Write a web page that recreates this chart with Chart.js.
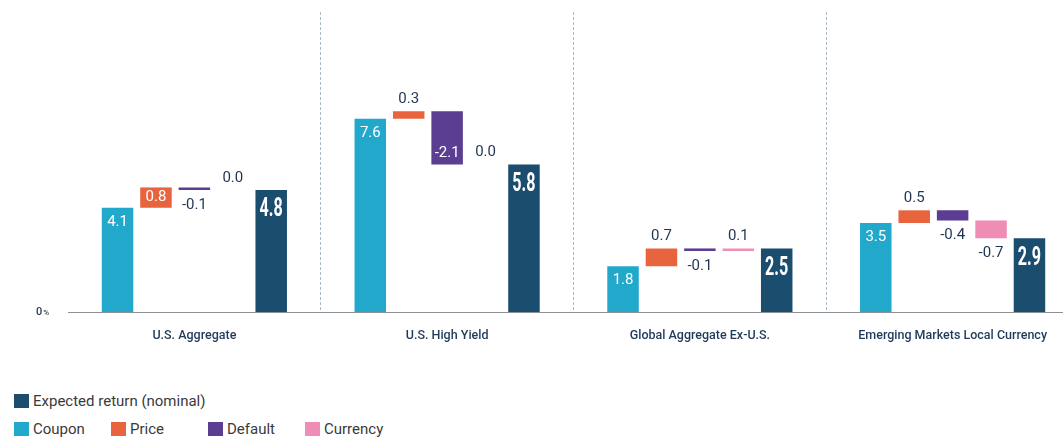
<!DOCTYPE html>
<html>
<head>
<meta charset="utf-8">
<script src="https://cdn.jsdelivr.net/npm/chart.js@4.4.1/dist/chart.umd.min.js"></script>
<style>
  html,body{margin:0;padding:0;background:#fff;overflow:hidden;width:1063px;height:438px;}
  #wrap{position:relative;width:1063px;height:438px;overflow:hidden;}
  canvas{position:absolute;left:0;top:0;}
  .legend{position:absolute;left:14px;top:391px;font:15px Roboto,sans-serif;color:#3a3a3a;}
  .row{display:flex;align-items:center;height:20px;margin-bottom:8px;}
  .item{display:flex;align-items:center;width:97px;white-space:nowrap;}
  .sw{width:15px;height:14px;margin-right:4px;flex:none;}
</style>
</head>
<body>
<div id="wrap">
  <canvas id="chart" width="1080" height="367"></canvas>
  <div class="legend" id="legend"></div>
</div>
<script>
// categories + component values (%)
const groups   = ['U.S. Aggregate', 'U.S. High Yield', 'Global Aggregate Ex-U.S.', 'Emerging Markets Local Currency'];
const coupon   = [4.1, 7.6, 1.8, 3.5];
const price    = [0.8, 0.3, 0.7, 0.5];
const defaults = [-0.1, -2.1, -0.1, -0.4];
const currency = [0.0, 0.0, 0.1, -0.7];
const expected = [4.8, 5.8, 2.5, 2.9];

const colors = {
  coupon: '#22a8cb',
  price: '#e8643f',
  def: '#5b3d91',
  cur: '#f08db6',
  total: '#1b4d6f'
};

// waterfall: each step floats from the running total
function floating(){
  const p = [], d = [], c = [];
  groups.forEach((g,i)=>{
    let s = coupon[i];
    p.push([s, s + price[i]]); s += price[i];
    d.push([s, s + defaults[i]]); s += defaults[i];
    c.push([s, s + currency[i]]);
  });
  return {p, d, c};
}
const fl = floating();

const labelPlugin = {
  id: 'valueLabels',
  afterDatasetsDraw(chart){
    const ctx = chart.ctx;
    chart.data.datasets.forEach((ds, di)=>{
      const meta = chart.getDatasetMeta(di);
      meta.data.forEach((bar, i)=>{
        const v = ds.raw[i];
        const txt = v.toFixed(1);
        const top = Math.min(bar.y, bar.base), bottom = Math.max(bar.y, bar.base);
        ctx.save();
        ctx.textAlign = 'center'; ctx.textBaseline = 'middle';
        if (ds.kind === 'total'){
          ctx.fillStyle = '#fff'; ctx.font = 'bold 26px Roboto';
          ctx.translate(bar.x, top + 20); ctx.scale(0.62, 1);
          ctx.fillText(txt, 0, 0);
        } else if (ds.kind === 'base'){
          ctx.fillStyle = '#fff'; ctx.font = '15px Roboto';
          ctx.fillText(txt, bar.x, top + 14.5);
        } else if (Math.abs(v) >= 0.8){
          ctx.fillStyle = '#fff'; ctx.font = '15px Roboto';
          ctx.fillText(txt, bar.x, v > 0 ? top + 10 : bottom - 11);
        } else {
          ctx.fillStyle = '#1f3450'; ctx.font = '15px Roboto';
          ctx.fillText(txt, bar.x, v >= 0 ? top - 12 : bottom + 15);
        }
        ctx.restore();
      });
    });
  },
  afterDraw(chart){
    // "0%" marker at the baseline
    const ctx = chart.ctx;
    const y = chart.scales.y.getPixelForValue(0);
    const x = chart.chartArea.left - 32;
    ctx.save();
    ctx.fillStyle = '#2a3a50'; ctx.textBaseline = 'middle'; ctx.textAlign = 'left';
    ctx.font = '500 11px Roboto';
    ctx.fillText('0', x, y);
    const w = ctx.measureText('0').width;
    ctx.font = '500 8px Roboto';
    ctx.fillText('%', x + w + 1, y + 1);
    ctx.restore();
  }
};

new Chart(document.getElementById('chart'), {
  type: 'bar',
  data: {
    labels: groups,
    datasets: [
      { label: 'Coupon', kind: 'base', raw: coupon, data: coupon.map(v=>[0, v]), backgroundColor: colors.coupon },
      { label: 'Price', kind: 'step', raw: price, data: fl.p, backgroundColor: colors.price },
      { label: 'Default', kind: 'step', raw: defaults, data: fl.d, backgroundColor: colors.def },
      { label: 'Currency', kind: 'step', raw: currency, data: fl.c, backgroundColor: colors.cur },
      { label: 'Expected return (nominal)', kind: 'total', raw: expected, data: expected.map(v=>[0, v]), backgroundColor: colors.total }
    ]
  },
  options: {
    responsive: false,
    devicePixelRatio: 1,
    animation: false,
    categoryPercentage: 0.76,
    barPercentage: 0.82,
    layout: { padding: { top: 12, bottom: 8, left: 68, right: 1 } },
    plugins: { legend: { display: false }, tooltip: { enabled: false } },
    scales: {
      x: {
        grid: {
          offset: true,
          drawTicks: false,
          lineWidth: 1,
          borderDash: [2, 2],
          color: (c)=> c.index === 0 ? 'rgba(0,0,0,0)' : '#a7bac6'
        },
        border: { display: true, color: '#8b9097', dash: [3, 2] },
        ticks: {
          padding: 16,
          maxRotation: 0,
          autoSkip: false,
          color: '#1f3a5a',
          font: { family: 'Roboto', size: 12.5, weight: '500' }
        }
      },
      y: { display: false, min: 0, max: 11.8 }
    }
  },
  plugins: [labelPlugin]
});

// legend: expected return on its own row, then the components
const legendRows = [
  [['Expected return (nominal)', colors.total]],
  [['Coupon', colors.coupon], ['Price', colors.price], ['Default', colors.def], ['Currency', colors.cur]]
];
const lg = document.getElementById('legend');
legendRows.forEach(r=>{
  const row = document.createElement('div'); row.className = 'row';
  r.forEach(([name, col])=>{
    const it = document.createElement('div'); it.className = 'item';
    it.innerHTML = `<span class="sw" style="background:${col}"></span><span>${name}</span>`;
    row.appendChild(it);
  });
  lg.appendChild(row);
});
</script>
</body>
</html>
